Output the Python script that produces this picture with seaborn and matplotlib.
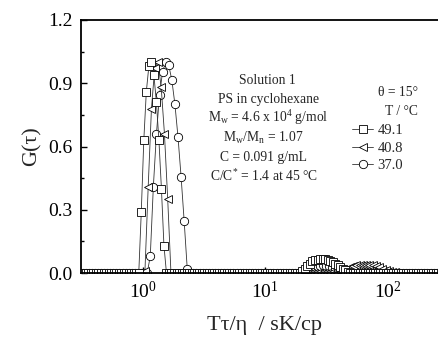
import numpy as np
import pandas as pd
import matplotlib
matplotlib.use("Agg")
import matplotlib.pyplot as plt
from matplotlib.ticker import FormatStrFormatter, MultipleLocator
import seaborn as sns

# Temperatures (°C) and their markers
temps = ["49.1", "40.8", "37.0"]
markers = ["s", "<", "o"]

# log10(Tτ/η) grid of each run: first point, spacing, number of points
sq_grid = (-0.529, 0.0206, 145)
tri_grid = (-0.516, 0.0266, 112)
cir_grid = (-0.520, 0.0252, 118)

# Non-zero parts of G(τ): (index of first grid point, values)
sq_fast = (25, [0.29, 0.63, 0.86, 0.98, 1.00, 0.94, 0.81, 0.63, 0.40, 0.13])
sq_slow = (89, [0.010, 0.020, 0.035, 0.045, 0.055, 0.060, 0.064, 0.066, 0.066,
                0.065, 0.062, 0.058, 0.052, 0.045, 0.037, 0.028, 0.020, 0.012,
                0.006, 0.002])

tri_fast = (20, [0.01, 0.41, 0.78, 0.97, 1.00, 0.88, 0.66, 0.35])
tri_slow = (80, [0.005, 0.012, 0.020, 0.027, 0.033, 0.037, 0.039, 0.040, 0.040,
                 0.039, 0.036, 0.032, 0.027, 0.021, 0.015, 0.010, 0.006, 0.003,
                 0.001])

cir_fast = (23, [0.08, 0.41, 0.66, 0.845, 0.955, 1.00, 0.985, 0.915, 0.80,
                 0.645, 0.457, 0.247, 0.02])
cir_slow = (73, [0.005, 0.012, 0.020, 0.027, 0.032, 0.035, 0.036, 0.035, 0.032,
                 0.027, 0.020, 0.013, 0.007, 0.002])


def build(grid, *parts):
    x0, step, n = grid
    x = 10 ** (x0 + step * np.arange(n))
    g = np.zeros(n)
    for start, vals in parts:
        g[start:start + len(vals)] = vals
    return pd.DataFrame({"x": x, "G": g})


series = {
    "49.1": build(sq_grid, sq_fast, sq_slow),
    "40.8": build(tri_grid, tri_fast, tri_slow),
    "37.0": build(cir_grid, cir_fast, cir_slow),
}

sns.set_theme(style="ticks")
plt.rcParams["font.family"] = ["Liberation Serif", "DejaVu Serif"]
plt.rcParams["mathtext.fontset"] = "custom"
plt.rcParams["mathtext.rm"] = "Liberation Serif"
plt.rcParams["mathtext.it"] = "Liberation Serif:italic"

W, H = 438, 341
fig = plt.figure(figsize=(W / 100, H / 100), dpi=100)
ax = fig.add_axes([81 / W, 1 - 273 / H, (448 - 81) / W, (273 - 20) / H])
ax.set_xscale("log")

# circles first, squares last so they sit on top
for t in ["37.0", "40.8", "49.1"]:
    m = markers[temps.index(t)]
    sns.lineplot(data=series[t], x="x", y="G", ax=ax, sort=False,
                 marker=m, markersize=5.6 if m != "o" else 6.0,
                 markerfacecolor="white", markeredgecolor="black",
                 markeredgewidth=0.6, color="#333333", linewidth=0.6,
                 label=t)

ax.set_xlim(0.311, 313)
ax.set_ylim(0, 1.2)
ax.yaxis.set_major_locator(MultipleLocator(0.3))
ax.yaxis.set_minor_locator(MultipleLocator(0.15))
ax.yaxis.set_major_formatter(FormatStrFormatter("%.1f"))

for s in ax.spines.values():
    s.set_linewidth(1.3)
    s.set_color("black")
ax.tick_params(which="both", direction="in", colors="black", labelsize=14,
               width=1.0, top=False, right=False)
ax.tick_params(which="major", length=4, pad=6)
ax.tick_params(which="minor", length=2.5)

ax.set_xlabel("Tτ/η  / sK/cp", fontsize=16, labelpad=10)
ax.set_ylabel("G(τ)", fontsize=16, labelpad=5)

# legend in the order 49.1, 40.8, 37.0
h, l = ax.get_legend_handles_labels()
order = [l.index(t) for t in temps]
ax.legend([h[i] for i in order], [l[i] for i in order], loc="upper left",
          bbox_to_anchor=(352 / W, 1 - 124 / H), bbox_transform=fig.transFigure,
          frameon=False, fontsize=10.5, handlelength=1.45, handletextpad=0.3,
          labelspacing=0.3, borderpad=0, borderaxespad=0)

fs = 9.8
def ftext(x, y, s, **kw):
    fig.text(x / W, 1 - y / H, s, ha="center", va="center", fontsize=fs, **kw)

ftext(398, 92, "θ = 15°")
ftext(401, 112, "T / °C")

ftext(267, 80, "Solution 1")
ftext(268, 99, "PS in cyclohexane")
ftext(268, 118, r"M$_{\rm w}$ = 4.6 x 10$^{4}$ g/mol")
ftext(263, 138, r"M$_{\rm w}$/M$_{\rm n}$ = 1.07")
ftext(263, 157, "C = 0.091 g/mL")
ftext(264, 176, r"C/C$^{*}$ = 1.4 at 45 °C")

fig.savefig("out.png", dpi=100)
